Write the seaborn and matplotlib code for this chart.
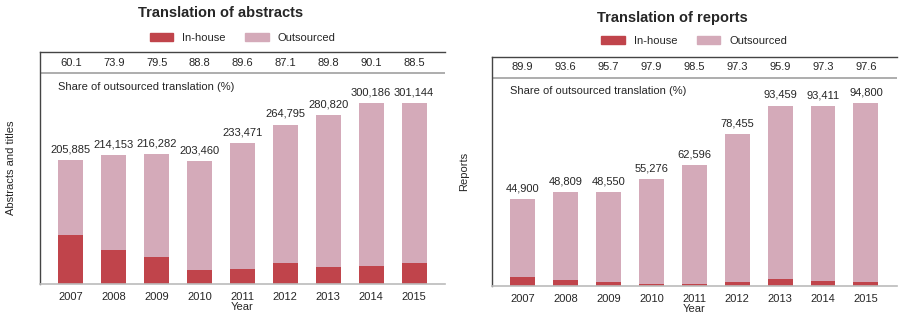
import matplotlib
matplotlib.use("Agg")
import matplotlib.pyplot as plt
import seaborn as sns
import pandas as pd
from matplotlib.patches import Patch

sns.set_theme(style="white")
plt.rcParams['font.family'] = ['Liberation Sans', 'DejaVu Sans']

years = ["2007", "2008", "2009", "2010", "2011", "2012", "2013", "2014", "2015"]

abs_total = [205885, 214153, 216282, 203460, 233471, 264795, 280820, 300186, 301144]
abs_inhouse = [82148, 55894, 44338, 22788, 24281, 34159, 28644, 29718, 34632]
abs_share = ["60.1", "73.9", "79.5", "88.8", "89.6", "87.1", "89.8", "90.1", "88.5"]

rep_total = [44900, 48809, 48550, 55276, 62596, 78455, 93459, 93411, 94800]
rep_inhouse = [4535, 3124, 2088, 1161, 939, 2118, 3832, 2522, 2275]
rep_share = ["89.9", "93.6", "95.7", "97.9", "98.5", "97.3", "95.9", "97.3", "97.6"]

C_IN = "#C0444B"
C_OUT = "#D4AAB9"
FS = 8

fig = plt.figure(figsize=(9.04, 3.22), dpi=100)
ax1 = fig.add_axes([0.0442, 0.118, 0.448, 0.720])
ax2 = fig.add_axes([0.544, 0.112, 0.448, 0.711])


def panel(ax, total, inhouse, share, ymax, title, ylabel, leg_y, ylpad):
    df = pd.DataFrame({"Year": years, "Total": total, "In": inhouse})
    sns.barplot(data=df, x="Year", y="Total", color=C_OUT, width=0.58,
                saturation=1, ax=ax, edgecolor="none")
    sns.barplot(data=df, x="Year", y="In", color=C_IN, width=0.58,
                saturation=1, ax=ax, edgecolor="none")
    ax.set_xlim(-0.72, 8.72)
    ax.set_ylim(0, ymax)
    ax.set_yticks([])
    ax.set_xlabel("Year", fontsize=FS, labelpad=0)
    ax.set_ylabel(ylabel, fontsize=FS, labelpad=ylpad)
    ax.tick_params(axis="x", length=0, labelsize=FS, pad=6)
    for i, v in enumerate(total):
        ax.annotate(f"{v:,}", (i, v), xytext=(0, 4), textcoords="offset points",
                    ha="center", va="bottom", fontsize=FS)
    for i, s in enumerate(share):
        ax.text(i, 0.955, s, transform=ax.get_xaxis_transform(),
                ha="center", va="center", fontsize=FS)
    ax.axhline(ymax * 0.908, color="#a0a0a0", lw=1.2)
    ax.text(0.044, 0.85, "Share of outsourced translation (%)",
            transform=ax.transAxes, ha="left", va="center", fontsize=FS)
    ax.spines["right"].set_visible(False)
    ax.spines["top"].set_color("#444444")
    ax.spines["top"].set_linewidth(1.0)
    ax.spines["left"].set_color("#444444")
    ax.spines["left"].set_linewidth(1.0)
    ax.spines["bottom"].set_color("#bbbbbb")
    ax.spines["bottom"].set_linewidth(1.2)
    ax.text(0.447, 1.17, title, transform=ax.transAxes, ha="center",
            va="center", fontsize=10.5, fontweight="bold")
    handles = [Patch(color=C_IN, label="In-house"), Patch(color=C_OUT, label="Outsourced")]
    ax.legend(handles=handles, loc="center", bbox_to_anchor=(0.5, leg_y), ncol=2,
              frameon=False, fontsize=FS, handlelength=2.1, handleheight=0.75,
              columnspacing=1.8, handletextpad=0.8)


panel(ax1, abs_total, abs_inhouse, abs_share, 385000,
      "Translation of abstracts", "Abstracts and titles", 1.06, 17)
panel(ax2, rep_total, rep_inhouse, rep_share, 118600,
      "Translation of reports", "Reports", 1.07, 16)

fig.savefig("out.png", dpi=100)
